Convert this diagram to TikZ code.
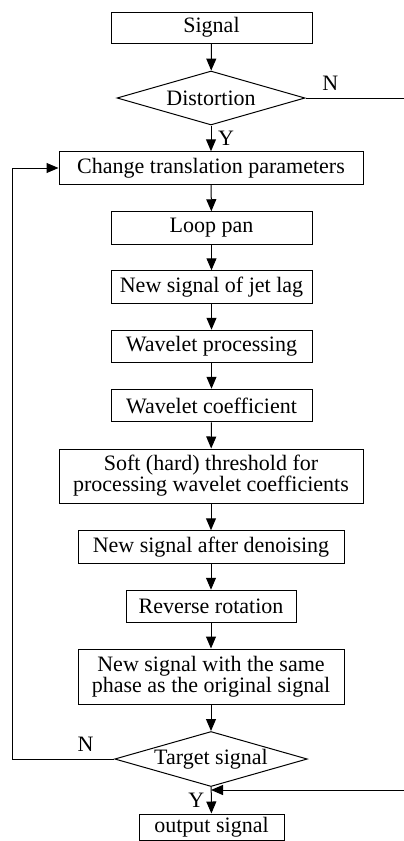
\documentclass[tikz,border=0pt]{standalone}
\usepackage{fontspec}
\setmainfont{Liberation Serif}
\usetikzlibrary{shapes.geometric,arrows.meta}
\begin{document}
\begin{tikzpicture}[x=0.5pt, y=-0.5pt, line width=0.5pt, >={Triangle[length=6pt,width=5pt]},
    every node/.style={font=\rmfamily\fontsize{11}{10.5}\selectfont},
    box/.style={draw, inner sep=1pt, minimum width=100.5pt, minimum height=16.25pt, align=center},
    test/.style={draw, diamond, aspect=3.5, inner sep=0.5pt, minimum width=94pt, minimum height=27pt}]
  \useasboundingbox (0,0) rectangle (403,841);
  \node[box, minimum height=15.5pt] (signal) at (211.5,27.5) {Signal};
  \node[test] (dist) at (211,98) {Distortion};
  \node[box, minimum width=152pt] (change) at (211,168) {Change translation parameters};
  \node[box] (loop) at (211.5,228) {Loop pan};
  \node[box] (lag) at (211.5,287) {New signal of jet lag};
  \node[box] (wproc) at (211.5,346.5) {Wavelet processing};
  \node[box] (wcoef) at (211.5,405.5) {Wavelet coefficient};
  \node[box, minimum width=152pt, minimum height=27pt] (soft) at (211,476) {Soft (hard) threshold for\\processing wavelet coefficients};
  \node[box, minimum width=133pt] (denoise) at (211,547) {New signal after denoising};
  \node[box, minimum width=85pt] (reverse) at (211,606.5) {Reverse rotation};
  \node[box, minimum width=133pt, minimum height=27.5pt] (phase) at (211,676.5) {New signal with the same\\phase as the original signal};
  \node[test] (target) at (211,759) {Target signal};
  \node[box, minimum width=72.5pt, minimum height=13pt] (output) at (211.5,827) {output signal};
  \coordinate (back) at (12,0);
  \coordinate (edge) at (405,0);
  \coordinate (join) at (211,790);
  \draw[->] (signal) -- (dist);
  \draw[->] (dist) -- node[right] {Y} (change);
  \draw[->] (change) -- (loop);
  \draw[->] (loop) -- (lag);
  \draw[->] (lag) -- (wproc);
  \draw[->] (wproc) -- (wcoef);
  \draw[->] (wcoef) -- (soft);
  \draw[->] (soft) -- (denoise);
  \draw[->] (denoise) -- (reverse);
  \draw[->] (reverse) -- (phase);
  \draw[->] (phase) -- (target);
  \draw[->] (target) -- node[left] {Y} (output);
  \draw[->] (target.west) -- node[above, pos=0.28] {N} (target.west -| back) |- (change.west);
  \draw[->] (dist.east) -- node[above, pos=0.25] {N} (dist.east -| edge) -- (edge |- join) -- (join);
\end{tikzpicture}
\end{document}
